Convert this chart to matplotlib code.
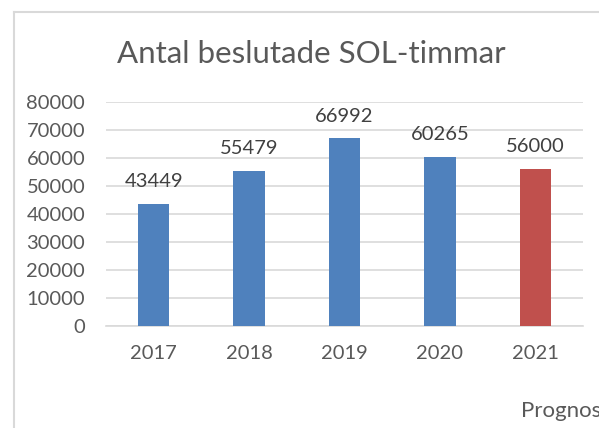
import numpy as np
import matplotlib.pyplot as plt
from matplotlib.lines import Line2D

years = ['2017', '2018', '2019', '2020', '2021']
hours = [43449, 55479, 66992, 60265, 56000]
colors = ['#4F81BD', '#4F81BD', '#4F81BD', '#4F81BD', '#C0504D']
yticks = [0, 10000, 20000, 30000, 40000, 50000, 60000, 70000, 80000]

plt.rcParams['font.family'] = ['Lato', 'DejaVu Sans']
txt = '#595959'
grid = '#D9D9D9'

W, H = 599, 428
fig = plt.figure(figsize=(W / 100, H / 100), dpi=100)
ax = fig.add_axes([106 / W, 1 - 326 / H, (583 - 106) / W, (326 - 102) / H])

x = np.arange(len(years))
bars = ax.bar(x, hours, width=0.33, color=colors, zorder=3)
for b, v in zip(bars, hours):
    ax.annotate(str(v), (b.get_x() + b.get_width() / 2, v), xytext=(0, 10),
                textcoords='offset points', ha='center', va='bottom',
                fontsize=14.5, color='#404040')

ax.set_xlim(-0.5, len(years) - 0.5)
ax.set_ylim(0, 80000)
ax.set_yticks(yticks)
ax.set_yticklabels([str(t) for t in yticks])
ax.set_xticks(x)
ax.set_xticklabels(years)
ax.tick_params(axis='both', length=0, labelsize=14.5, colors=txt)
ax.tick_params(axis='y', pad=15)
ax.tick_params(axis='x', pad=14)
ax.grid(axis='y', color=grid, linewidth=1.2, zorder=0)
for s in ['left', 'right', 'top']:
    ax.spines[s].set_visible(False)
ax.spines['bottom'].set_color(grid)
ax.spines['bottom'].set_linewidth(1.2)

fig.text(311 / W, 1 - 63 / H, 'Antal beslutade SOL-timmar', ha='center',
         va='baseline', fontsize=22.5, color=txt)
fig.text(521 / W, 1 - 417 / H, 'Prognos', ha='left', va='baseline',
         fontsize=16, color=txt)

# chart frame (left and top edges only are visible)
fig.add_artist(Line2D([14 / W, 14 / W], [0, 1 - 12 / H], transform=fig.transFigure,
                      color=grid, linewidth=1.5))
fig.add_artist(Line2D([14 / W, 1], [1 - 12 / H, 1 - 12 / H], transform=fig.transFigure,
                      color=grid, linewidth=1.5))

fig.savefig('out.png', dpi=100, facecolor='white')
